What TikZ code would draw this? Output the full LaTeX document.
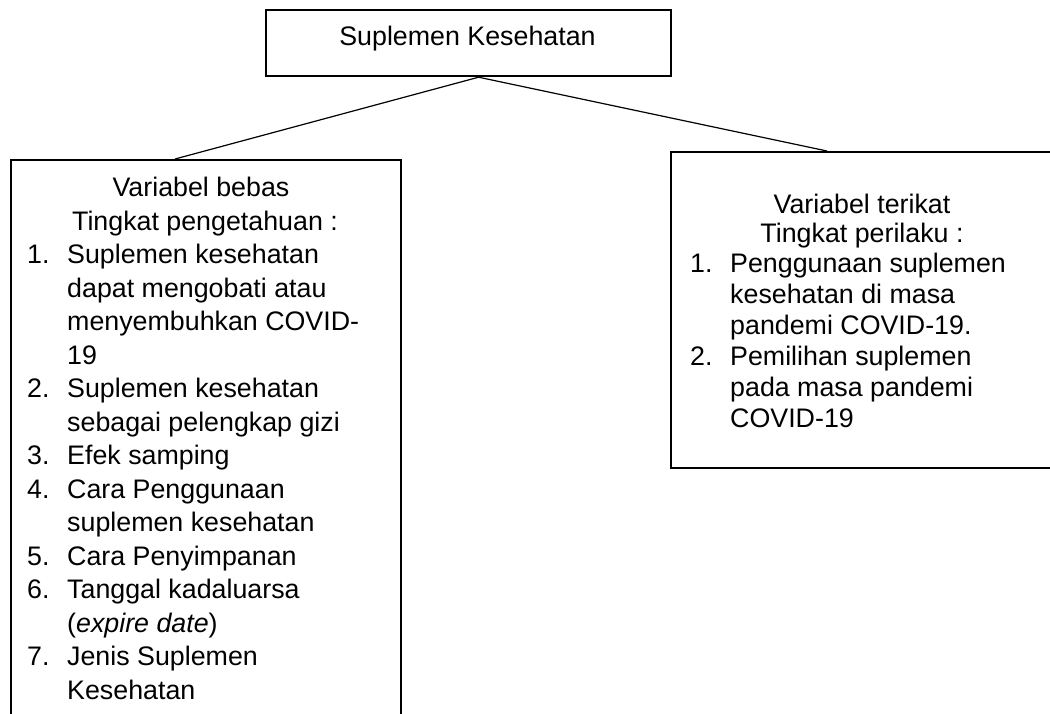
\documentclass[tikz,border=0pt]{standalone}
\usepackage{fontspec}
\setmainfont{Liberation Sans}
\usetikzlibrary{calc}

\tikzset{
	box/.style={draw, line width=2.2pt, inner sep=0pt, anchor=north west},
	link/.style={line width=1.2pt},
	txt/.style={inner sep=0pt, font=\fontsize{26.8pt}{32pt}\selectfont},
	ttl/.style={txt, anchor=base},
	itm/.style={txt, anchor=base west}
}
\newcommand{\itemno}[1]{\makebox[40pt][l]{#1}}

\begin{document}
\begin{tikzpicture}[x=1pt, y=-1pt]
			%%%%% START %%%%%
			\useasboundingbox (0,0) rectangle (1050,713);
			\clip (0,0) rectangle (1050,713);

			% boxes
			\node[box, minimum width=405pt, minimum height=66pt] (top) at (265,9) {};
			\node[box, minimum width=390pt, minimum height=620pt] (lbox) at (10,159) {};
			\node[box, minimum width=420pt, minimum height=316pt] (rbox) at (670,151) {};

			% connectors
			\coordinate (fork) at ([xshift=10pt]top.south);
			\coordinate (lend) at ([xshift=165pt]lbox.north west);
			\coordinate (rend) at ([xshift=157pt]rbox.north west);
			\draw[link] (fork) -- (lend);
			\draw[link] (fork) -- (rend);

			\node[ttl] (toptitle) at (467.5,45.5) {Suplemen Kesehatan};

			% variabel bebas
			\node[ttl] (ltitle) at (201,196) {Variabel bebas};
			\node[ttl] (lsub) at (205,230) {Tingkat pengetahuan :};
			\foreach \n/\t [count=\i from 0] in {
				1./{Suplemen kesehatan}, {}/{dapat mengobati atau},
				{}/{menyembuhkan COVID-}, {}/{19},
				2./{Suplemen kesehatan}, {}/{sebagai pelengkap gizi},
				3./{Efek samping}, 4./{Cara Penggunaan},
				{}/{suplemen kesehatan}, 5./{Cara Penyimpanan},
				6./{Tanggal kadaluarsa}, {}/{(\textit{expire date})},
				7./{Jenis Suplemen}, {}/{Kesehatan}}
				\node[itm] (lit\i) at (27,{263.5+33.5*\i}) {\itemno{\n}\t};

			% variabel terikat
			\node[ttl] (rtitle) at (862,213) {Variabel terikat};
			\node[ttl] (rsub) at (862,242) {Tingkat perilaku :};
			\foreach \n/\t [count=\i from 0] in {
				1./{Penggunaan suplemen}, {}/{kesehatan di masa},
				{}/{pandemi COVID-19.}, 2./{Pemilihan suplemen},
				{}/{pada masa pandemi}, {}/{COVID-19}}
				\node[itm] (rit\i) at (690,{272+31*\i}) {\itemno{\n}\t};
			%%%%% END %%%%%
\end{tikzpicture}
\end{document}
